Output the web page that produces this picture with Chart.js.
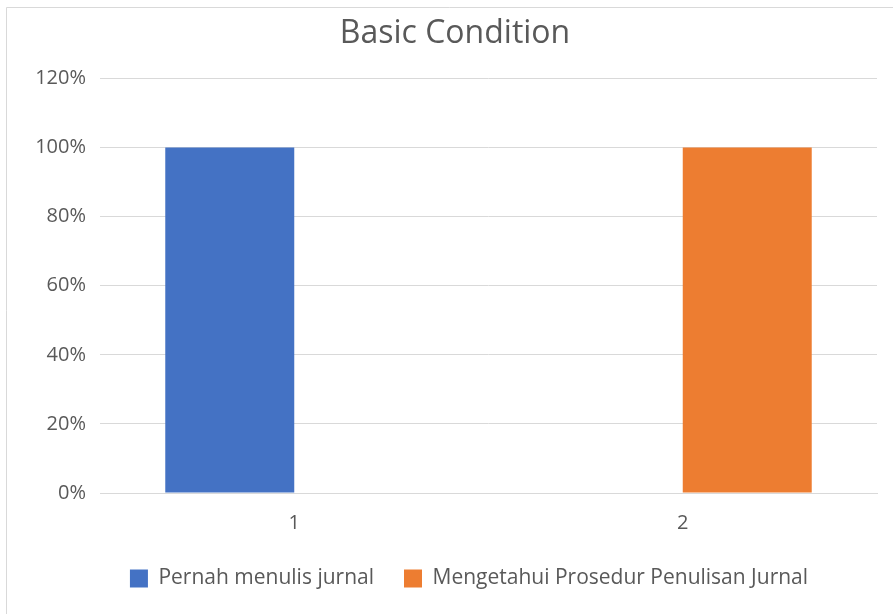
<!DOCTYPE html>
<html lang="id">
<head>
    <meta charset="UTF-8">
    <title>Basic Condition</title>
    <script src="https://cdn.jsdelivr.net/npm/chart.js"></script>
    <style>
        body { margin: 0; background: #fff; }
        #wrap { width: 893px; height: 614px; }
    </style>
</head>
<body>
    <div id="wrap"><canvas id="basicChart" width="893" height="614"></canvas></div>
    <script>
        // data
        const categories = ['1', '2'];
        const pernahMenulis = [1, 0];
        const mengetahuiProsedur = [0, 1];
        const seriesNames = ['Pernah menulis jurnal', 'Mengetahui Prosedur Penulisan Jurnal'];

        const textColor = '#595959';
        const gridColor = '#D9D9D9';
        const fontFamily = '"Open Sans", "Noto Sans", sans-serif';

        // white background + frame like the Excel chart border
        const framePlugin = {
            id: 'frame',
            beforeDraw(chart) {
                const c = chart.ctx;
                c.save();
                c.fillStyle = '#fff';
                c.fillRect(0, 0, chart.width, chart.height);
                c.strokeStyle = gridColor;
                c.lineWidth = 1;
                c.beginPath();
                c.moveTo(6.5, chart.height);
                c.lineTo(6.5, 7.5);
                c.lineTo(chart.width, 7.5);
                c.stroke();
                c.restore();
            },
            // excel puts the legend a bit right of the title
            afterLayout(chart) {
                chart.legend.left += 14;
                chart.legend.right += 14;
            }
        };

        new Chart(document.getElementById('basicChart'), {
            type: 'bar',
            data: {
                labels: categories,
                datasets: [{
                    label: seriesNames[0],
                    data: pernahMenulis,
                    backgroundColor: '#4472C4'
                }, {
                    label: seriesNames[1],
                    data: mengetahuiProsedur,
                    backgroundColor: '#ED7D31'
                }]
            },
            options: {
                responsive: false,
                animation: false,
                datasets: {
                    bar: { barPercentage: 1, categoryPercentage: 0.664 }
                },
                layout: { padding: { left: 33, right: 16, top: 15, bottom: 15 } },
                plugins: {
                    title: {
                        display: true,
                        text: 'Basic Condition',
                        color: textColor,
                        font: { family: fontFamily, size: 32, weight: 'normal' },
                        padding: { top: 0, bottom: 25 }
                    },
                    legend: {
                        position: 'bottom',
                        labels: {
                            color: textColor,
                            font: { family: fontFamily, size: 21 },
                            boxWidth: 18,
                            boxHeight: 18,
                            padding: 30,
                            useBorderRadius: false
                        }
                    },
                    tooltip: { enabled: false }
                },
                scales: {
                    x: {
                        afterFit(scale) { scale.height -= 7; },
                        grid: { display: false },
                        border: { color: gridColor },
                        ticks: {
                            color: textColor,
                            font: { family: fontFamily, size: 20 },
                            padding: 10
                        }
                    },
                    y: {
                        min: 0,
                        max: 1.2,
                        afterFit(scale) { scale.width = 67; },
                        grid: { color: gridColor, drawTicks: false },
                        border: { display: false },
                        ticks: {
                            stepSize: 0.2,
                            color: textColor,
                            font: { family: fontFamily, size: 20 },
                            padding: 14,
                            callback: v => Math.round(v * 100) + '%'
                        }
                    }
                }
            },
            plugins: [framePlugin]
        });
    </script>
</body>
</html>
